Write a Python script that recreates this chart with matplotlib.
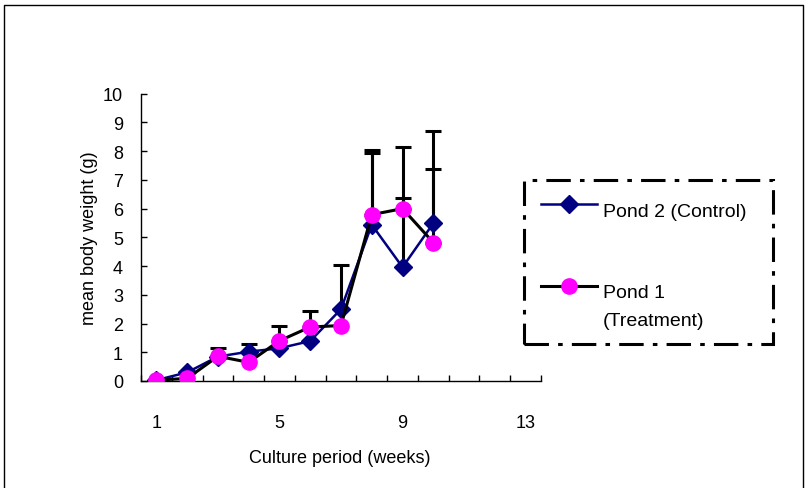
import numpy as np
import matplotlib.pyplot as plt
from matplotlib.lines import Line2D
from matplotlib.patches import Rectangle

plt.rcParams['font.family'] = ['Liberation Sans', 'DejaVu Sans']

weeks = [1, 2, 3, 4, 5, 6, 7, 8, 9, 10]
control = [0.03, 0.3, 0.85, 1.02, 1.14, 1.39, 2.5, 5.44, 3.96, 5.49]
control_err = [0, 0, 0.29, 0.27, 0, 0, 1.55, 2.61, 2.4, 3.2]
treatment = [0.03, 0.09, 0.86, 0.65, 1.4, 1.88, 1.93, 5.79, 6.0, 4.82]
treatment_err = [0, 0, 0, 0, 0.51, 0.56, 0, 2.15, 2.13, 2.56]
xlabels = ["1", "5", "9", "13"]

W, H = 807, 489
fig = plt.figure(figsize=(W / 100, H / 100), dpi=100)
fx = lambda p: p / W
fy = lambda p: 1 - p / H

ax = fig.add_axes([fx(141), fy(382), fx(541) - fx(141), fy(94.7) - fy(382)])

# error bars (upper only), black
for y, e in [(control, control_err), (treatment, treatment_err)]:
    e = np.array(e, dtype=float)
    m = e > 0
    ax.errorbar(np.array(weeks)[m], np.array(y)[m],
                yerr=[np.zeros(m.sum()), e[m]], fmt='none',
                ecolor='black', elinewidth=2.2, capsize=5.8, capthick=2.2, zorder=1)

ax.plot(weeks, control, color='#000080', lw=1.8, marker='D', ms=9.5,
        mfc='#000080', mec='#000080', zorder=2)
ax.plot(weeks, treatment, color='black', lw=2.2, marker='o', ms=11,
        mfc='#FF00FF', mec='#FF00FF', zorder=3)

ax.set_xlim(0.5, 13.5)
ax.set_ylim(0, 10)
ax.set_yticks(range(0, 11))
ax.set_xticks([1, 5, 9, 13])
ax.set_xticklabels(xlabels)
ax.set_xticks(np.arange(0.5, 14, 1), minor=True)
ax.tick_params(axis='x', which='major', length=0, pad=24, labelsize=13)
ax.tick_params(axis='x', which='minor', direction='in', length=4.5, width=1)
ax.tick_params(axis='y', direction='in', length=4.5, width=1, pad=13, labelsize=13)
for s in ['top', 'right']:
    ax.spines[s].set_visible(False)
for s in ['left', 'bottom']:
    ax.spines[s].set_linewidth(1)

fig.text(fx(89), fy(238), "mean body weight (g)", rotation=90, ha='center', va='center', fontsize=13)
fig.text(fx(340), fy(459), "Culture period (weeks)", ha='center', va='center', fontsize=13)

# legend box
fig.patches.append(Rectangle((fx(524), fy(345)), fx(773) - fx(524), fy(181) - fy(345),
                             transform=fig.transFigure, fill=False, lw=2.2,
                             linestyle=(0, (8, 3, 1.5, 3)), edgecolor='black'))
fig.lines.append(Line2D([fx(541), fx(597)], [fy(205), fy(205)], transform=fig.transFigure,
                        color='#000080', lw=1.8))
fig.lines.append(Line2D([fx(569)], [fy(205)], transform=fig.transFigure, marker='D', ms=9.5,
                        color='#000080'))
fig.lines.append(Line2D([fx(541), fx(597)], [fy(287), fy(287)], transform=fig.transFigure,
                        color='black', lw=2.2))
fig.lines.append(Line2D([fx(569)], [fy(287)], transform=fig.transFigure, marker='o', ms=11,
                        color='#FF00FF'))
fig.text(fx(603), fy(213), "Pond 2 (Control)", ha='left', va='center', fontsize=14)
fig.text(fx(603), fy(293), "Pond 1", ha='left', va='center', fontsize=14)
fig.text(fx(603), fy(322), "(Treatment)", ha='left', va='center', fontsize=14)

# outer frame
fig.lines.append(Line2D([fx(4), fx(4), fx(803), fx(803)], [0, fy(6), fy(6), 0],
                        transform=fig.transFigure, color='black', lw=1))

fig.savefig("out.png", dpi=100)
